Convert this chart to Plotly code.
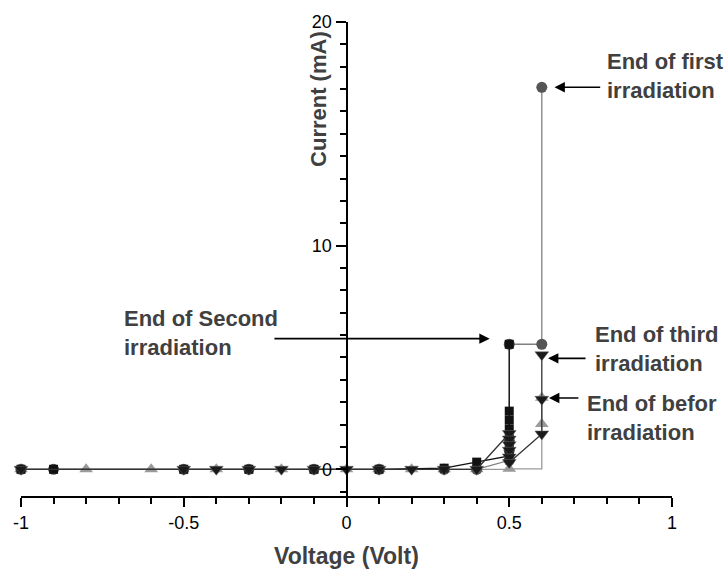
import plotly.graph_objects as go

# ---------------- data ----------------
# Before irradiation (light grey up-triangles)
before_x = [-1, -0.8, -0.6, -0.4, -0.2, 0, 0.1, 0.2, 0.3, 0.4, 0.5, 0.6, 0.6]
before_y = [0, 0, 0, 0, 0, 0, 0, 0, 0, 0, 0.02, 2.02, 3.2]

# End of first irradiation (dark grey circles)
first_x = [-1, -0.9, -0.5, -0.3, -0.1, 0.1, 0.3, 0.4, 0.5, 0.5, 0.5, 0.5, 0.6, 0.6]
first_y = [0, 0, 0, 0, 0, 0, 0, 0, 0.4, 0.85, 1.3, 5.59, 5.59, 17.08]

# End of second irradiation (black squares)
second_x = [-1, -0.9, -0.5, -0.3, -0.1, 0.1, 0.3, 0.4, 0.5, 0.5, 0.5, 0.5, 0.5, 0.5, 0.5]
second_y = [0, 0, 0, 0, 0, 0, 0.05, 0.32, 0.6, 1.0, 1.4, 1.8, 2.2, 2.6, 5.59]

# End of third irradiation (black down-triangles)
third_x = [-1, -0.5, -0.4, -0.3, -0.2, -0.1, 0, 0.1, 0.2, 0.3, 0.4,
           0.5, 0.5, 0.5, 0.5, 0.5, 0.5, 0.6, 0.6, 0.6]
third_y = [0, 0, 0, 0, 0, 0, 0, 0, 0, 0, 0,
           1.6, 1.35, 1.1, 0.85, 0.55, 0.3, 1.58, 3.13, 5.12]

x_tickvals = [-1, -0.5, 0, 0.5, 1]
x_ticktext = ["-1", "-0.5", "0", "0.5", "1"]
y_tickvals = [0, 10, 20]
y_ticktext = ["0", "10", "20"]

FONT = "Liberation Sans, Arial, sans-serif"
TXT = "#404040"

fig = go.Figure()

fig.add_trace(go.Scatter(
    x=before_x, y=before_y, mode="lines+markers",
    line=dict(color="#9a9a9a", width=1.3, shape="hv"),
    marker=dict(symbol="triangle-up", size=12, color="#9a9a9a"),
    cliponaxis=False, showlegend=False))

fig.add_trace(go.Scatter(
    x=first_x, y=first_y, mode="lines+markers",
    line=dict(color="#808080", width=1.3),
    marker=dict(symbol="circle", size=11, color="#555555"),
    cliponaxis=False, showlegend=False))

fig.add_trace(go.Scatter(
    x=second_x, y=second_y, mode="lines+markers",
    line=dict(color="#111111", width=1.3),
    marker=dict(symbol="square", size=9, color="#111111"),
    cliponaxis=False, showlegend=False))

fig.add_trace(go.Scatter(
    x=third_x, y=third_y, mode="lines+markers",
    line=dict(color="#333333", width=1.3),
    marker=dict(symbol="triangle-down", size=12, color="#1a1a1a",
                line=dict(color="#666666", width=0.5)),
    cliponaxis=False, showlegend=False))

# ---------------- annotations ----------------
labels = [
    ("End of first<br>irradiation", 0.794, 17.57),
    ("End of Second<br>irradiation", -0.69, 6.1),
    ("End of third<br>irradiation", 0.757, 5.38),
    ("End of befor<br>irradiation", 0.732, 2.3),
]
for txt, lx, ly in labels:
    fig.add_annotation(x=lx, y=ly, xref="x", yref="y", text="<b>" + txt.replace("<br>", "</b><br><b>") + "</b>",
                       showarrow=False,
                       xanchor="left", yanchor="middle", align="left",
                       font=dict(family=FONT, size=22, color=TXT))

# arrows: (tip_x, tip_y, tail_x, tail_y)
arrows = [
    (0.639, 17.08, 0.784, 17.08),
    (0.44, 5.84, -0.226, 5.84),
    (0.619, 4.96, 0.739, 4.96),
    (0.622, 3.19, 0.717, 3.19),
]
for tx, ty, ax, ay in arrows:
    fig.add_annotation(x=tx, y=ty, ax=ax, ay=ay, xref="x", yref="y",
                       axref="x", ayref="y", text="", showarrow=True,
                       arrowhead=2, arrowsize=1.3, arrowwidth=1.6,
                       arrowcolor="#000000", standoff=0, startstandoff=0)

# axis titles
fig.add_annotation(x=0.5, y=-0.127, xref="paper", yref="paper",
                   text="<b>Voltage (Volt)</b>", showarrow=False,
                   xanchor="center", yanchor="middle",
                   font=dict(family=FONT, size=23, color=TXT))
fig.add_annotation(x=0.458, y=0.838, xref="paper", yref="paper",
                   text="<b>Current (mA)</b>", showarrow=False, textangle=-90,
                   xanchor="center", yanchor="middle",
                   font=dict(family=FONT, size=22, color=TXT))

fig.update_layout(
    width=725, height=573,
    margin=dict(l=21, r=53, t=17, b=77),
    paper_bgcolor="white", plot_bgcolor="white",
    font=dict(family=FONT, size=18, color="black"),
    xaxis=dict(range=[-1, 1], showgrid=False, zeroline=False,
               showline=True, linecolor="black", linewidth=2,
               ticks="outside", ticklen=9, tickwidth=1.5, tickcolor="black",
               tickvals=x_tickvals, ticktext=x_ticktext,
               tickfont=dict(family=FONT, size=18, color="black"),
               minor=dict(ticks="outside", ticklen=6, tickwidth=1.5,
                          tickcolor="black", dtick=0.1, tick0=0, showgrid=False)),
    yaxis=dict(range=[-1.195, 20], showgrid=False, zeroline=False,
               anchor="free", position=0.5,
               showline=True, linecolor="black", linewidth=2,
               ticks="outside", ticklen=10, tickwidth=1.5, tickcolor="black",
               tickvals=y_tickvals, ticktext=y_ticktext,
               tickfont=dict(family=FONT, size=18, color="black"),
               minor=dict(ticks="outside", ticklen=6, tickwidth=1.5,
                          tickcolor="black", dtick=1, tick0=0, showgrid=False)),
)

fig.write_html("out.html")
